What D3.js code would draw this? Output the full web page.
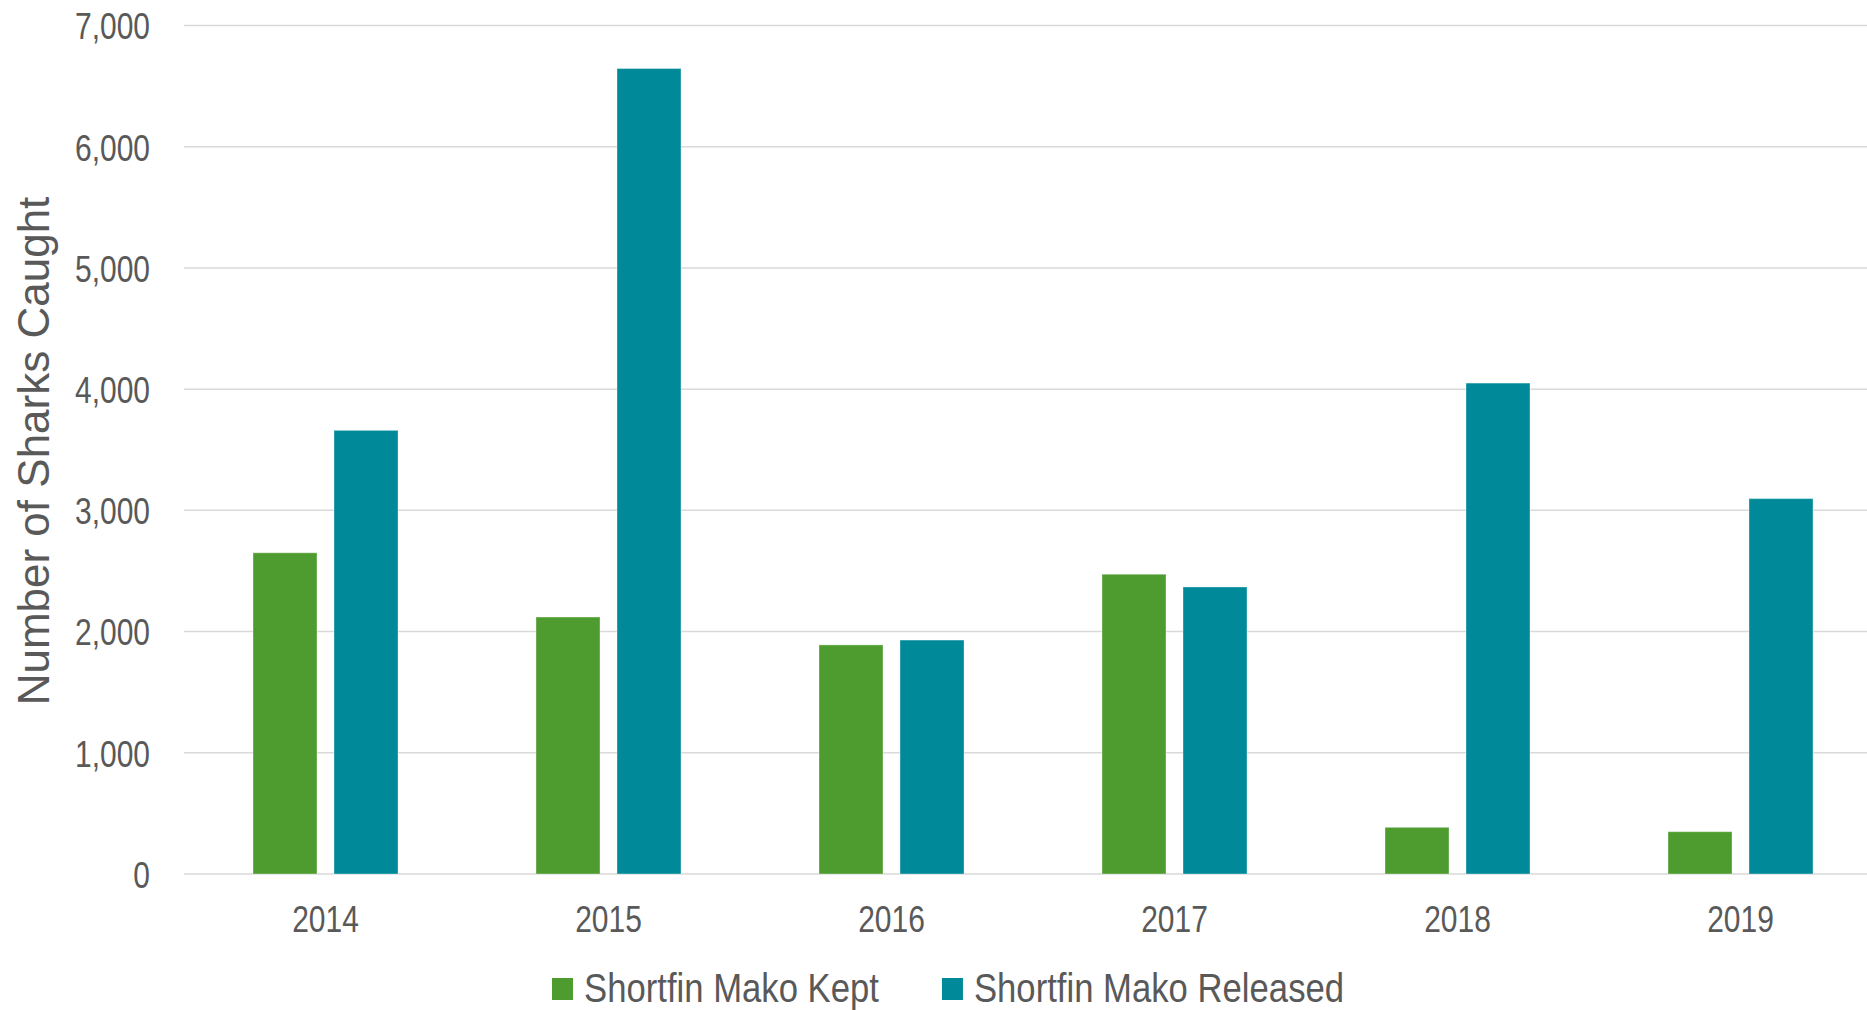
<!DOCTYPE html>
<html>
<head>
<meta charset="utf-8">
<script src="https://cdn.jsdelivr.net/npm/d3@7"></script>
<style>
  body { margin: 0; background: #fff; }
  svg { display: block; }
  .tick text { fill: #595959; }
</style>
</head>
<body>
<div id="chart"></div>
<script>
// chart data
const years = ["2014", "2015", "2016", "2017", "2018", "2019"];
const kept = [2650, 2120, 1890, 2473, 385, 349];
const released = [3660, 6645, 1930, 2368, 4050, 3097];
const seriesNames = ["Shortfin Mako Kept", "Shortfin Mako Released"];
const seriesColors = ["#4E9C2F", "#008A99"];
const yTicks = [0, 1000, 2000, 3000, 4000, 5000, 6000, 7000];

const W = 1867, H = 1010;
// no narrow font installed, so the sans is squeezed horizontally
const font = "'Liberation Sans', Arial, sans-serif";
const tickSqueeze = 0.81, legendSqueeze = 0.846;

// plot area
const plotLeft = 184, plotRight = 1882, plotTop = 25.5, plotBottom = 874;

const svg = d3.select("#chart").append("svg")
    .attr("width", W)
    .attr("height", H);

const rows = years.map(function(yr, i) {
    return {year: yr, values: [kept[i], released[i]]};
});

// group scale and bar scale inside the group
const x0 = d3.scaleBand()
    .domain(years)
    .range([plotLeft, plotRight])
    .paddingInner(0.4876)
    .paddingOuter(0.2438);
const x1 = d3.scaleBand()
    .domain([0, 1])
    .range([0, x0.bandwidth()])
    .paddingInner(0.21);
const y = d3.scaleLinear()
    .domain([0, 7000])
    .range([plotBottom, plotTop]);

// gridlines
svg.append("g")
    .selectAll("line")
    .data(yTicks)
    .enter().append("line")
    .attr("x1", plotLeft)
    .attr("x2", W)
    .attr("y1", function(d) { return y(d); })
    .attr("y2", function(d) { return y(d); })
    .attr("stroke", "#D9D9D9")
    .attr("stroke-width", 1.5);

// bars
const groups = svg.append("g")
    .selectAll("g")
    .data(rows)
    .enter().append("g")
    .attr("transform", function(d) { return "translate(" + x0(d.year) + ",0)"; });

groups.selectAll("rect")
    .data(function(d) { return d.values.map(function(v, i) { return {i: i, v: v}; }); })
    .enter().append("rect")
    .attr("x", function(d) { return x1(d.i); })
    .attr("width", x1.bandwidth())
    .attr("y", function(d) { return y(d.v); })
    .attr("height", function(d) { return plotBottom - y(d.v); })
    .attr("fill", function(d) { return seriesColors[d.i]; })
    .attr("stroke", "#ffffff")
    .attr("stroke-opacity", 0.35)
    .attr("stroke-width", 1);

// y axis (labels only)
const yAxis = svg.append("g")
    .attr("transform", "translate(" + (plotLeft - 34) + ",0)")
    .call(d3.axisLeft(y).tickValues(yTicks).tickFormat(d3.format(",")).tickSize(0).tickPadding(0));
yAxis.select(".domain").remove();
yAxis.selectAll("text")
    .style("font-family", font)
    .style("font-size", "37px")
    .attr("x", 0)
    .attr("dy", "0.36em")
    .attr("transform", "scale(" + tickSqueeze + ",1)");

// x axis (labels only)
const xAxis = svg.append("g")
    .attr("transform", "translate(0," + plotBottom + ")")
    .call(d3.axisBottom(x0).tickSize(0).tickPadding(0));
xAxis.select(".domain").remove();
xAxis.selectAll("text")
    .style("font-family", font)
    .style("font-size", "37px")
    .attr("y", 58)
    .attr("dy", 0)
    .attr("transform", "scale(" + tickSqueeze + ",1)");

// y axis title
svg.append("text")
    .attr("transform", "translate(49,451) rotate(-90)")
    .attr("text-anchor", "middle")
    .style("font-family", font)
    .style("font-size", "44px")
    .style("fill", "#595959")
    .text("Number of Sharks Caught");

// legend
const legend = svg.append("g");
let lx = 552;
seriesNames.forEach(function(name, i) {
    legend.append("rect")
        .attr("x", lx)
        .attr("y", 978)
        .attr("width", 21)
        .attr("height", 22)
        .attr("fill", seriesColors[i]);
    const t = legend.append("text")
        .attr("transform", "translate(" + (lx + 32) + ",1002) scale(" + legendSqueeze + ",1)")
        .style("font-family", font)
        .style("font-size", "41px")
        .style("fill", "#595959")
        .text(name);
    lx = lx + 32 + t.node().getComputedTextLength() * legendSqueeze + 63;
});
</script>
</body>
</html>
